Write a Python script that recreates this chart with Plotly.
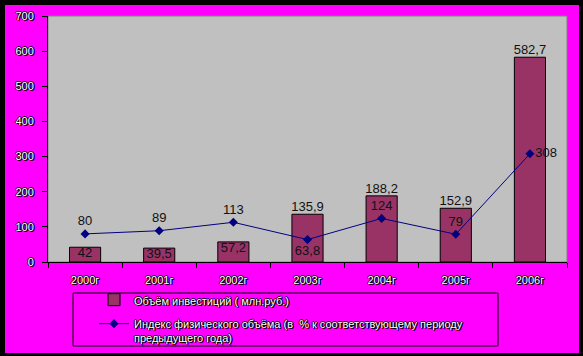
import plotly.graph_objects as go

years = ["2000г", "2001г", "2002г", "2003г", "2004г", "2005г", "2006г"]
invest = [42, 39.5, 57.2, 135.9, 188.2, 152.9, 582.7]
invest_labels = ["42", "39,5", "57,2", "135,9", "188,2", "152,9", "582,7"]
index_vals = [80, 89, 113, 63.8, 124, 79, 308]
index_labels = ["80", "89", "113", "63,8", "124", "79", "308"]
bar_name = "Объём инвестиций ( млн.руб.)"
line_name = "Индекс физического объёма (в  % к соответствующему периоду<br>предыдущего года)"

W, H = 583, 356
ML, MR, MT, MB = 48, 16, 16, 94
PW, PH = W - ML - MR, H - MT - MB

def px(x):
    return (x - ML) / PW

def py(y):
    return (H - MB - y) / PH

shadow = "1px 1px 0px black, -1px 0px 0px black, 0px -1px 0px black, 1px 0px 0px black"
tick_font = dict(family="Liberation Sans, Arial, sans-serif", size=11, color="white", shadow=shadow)
label_font = dict(family="Liberation Sans, Arial, sans-serif", size=13, color="#111111")

fig = go.Figure()
fig.add_trace(go.Bar(
    x=years, y=invest, name=bar_name, legendgroup="a",
    marker=dict(color="#993366", line=dict(color="black", width=1)),
    width=0.42,
))
fig.add_trace(go.Scatter(
    x=years, y=invest, mode="text", text=invest_labels, showlegend=False,
    legendgroup="a",
    textposition=["bottom center", "bottom center", "bottom center", "top center",
                  "top center", "top center", "top center"],
    textfont=label_font, cliponaxis=False, hoverinfo="skip",
))
fig.add_trace(go.Scatter(
    x=years, y=index_vals, name=line_name, mode="lines+markers+text",
    legendgroup="b",
    line=dict(color="#000080", width=1),
    marker=dict(symbol="diamond", size=7, color="#000080"),
    text=index_labels,
    textposition=["top center", "top center", "top center", "bottom center",
                  "top center", "top center", "middle right"],
    textfont=label_font, cliponaxis=False,
))

shapes = []
# plot area border
shapes.append(dict(type="rect", xref="paper", yref="paper", layer="below",
                   x0=0, x1=1, y0=0, y1=1,
                   line=dict(color="#808080", width=1), fillcolor="rgba(0,0,0,0)"))
# legend frame
shapes.append(dict(type="rect", xref="paper", yref="paper", layer="below",
                   x0=px(73), x1=px(498), y0=py(293), y1=py(346),
                   line=dict(color="black", width=1), fillcolor="rgba(0,0,0,0)"))
# outer black frame
for (x0, x1, y0, y1) in [(0, 5, 0, H), (579, W, 0, H), (0, W, 0, 5), (0, W, 353, H)]:
    shapes.append(dict(type="rect", xref="paper", yref="paper",
                       x0=px(x0), x1=px(x1), y0=py(y0), y1=py(y1),
                       line=dict(width=0), fillcolor="black"))

fig.update_layout(
    width=W, height=H,
    margin=dict(l=ML, r=MR, t=MT, b=MB, autoexpand=False),
    paper_bgcolor="#FF00FF", plot_bgcolor="#C0C0C0",
    showlegend=True,
    legend=dict(x=px(94), y=py(286), xanchor="left", yanchor="top",
                bgcolor="rgba(0,0,0,0)", font=tick_font, valign="top",
                traceorder="grouped", tracegroupgap=5),
    xaxis=dict(type="category", showline=True, linecolor="black", linewidth=1,
               ticks="outside", tickson="boundaries", ticklen=5, tickcolor="black",
               tickfont=tick_font, showgrid=False, fixedrange=True,
               ticklabelstandoff=8),
    yaxis=dict(range=[0, 700], dtick=100, showline=True, linecolor="black", linewidth=1,
               ticks="outside", ticklen=5, tickcolor="black", tickfont=tick_font,
               showgrid=False, zeroline=False, fixedrange=True,
               ticklabelstandoff=6),
    shapes=shapes,
    bargap=0.58,
)

fig.write_html("out.html", config={"displayModeBar": False},
               post_script="document.body.style.margin='0';document.body.style.overflow='hidden';")
